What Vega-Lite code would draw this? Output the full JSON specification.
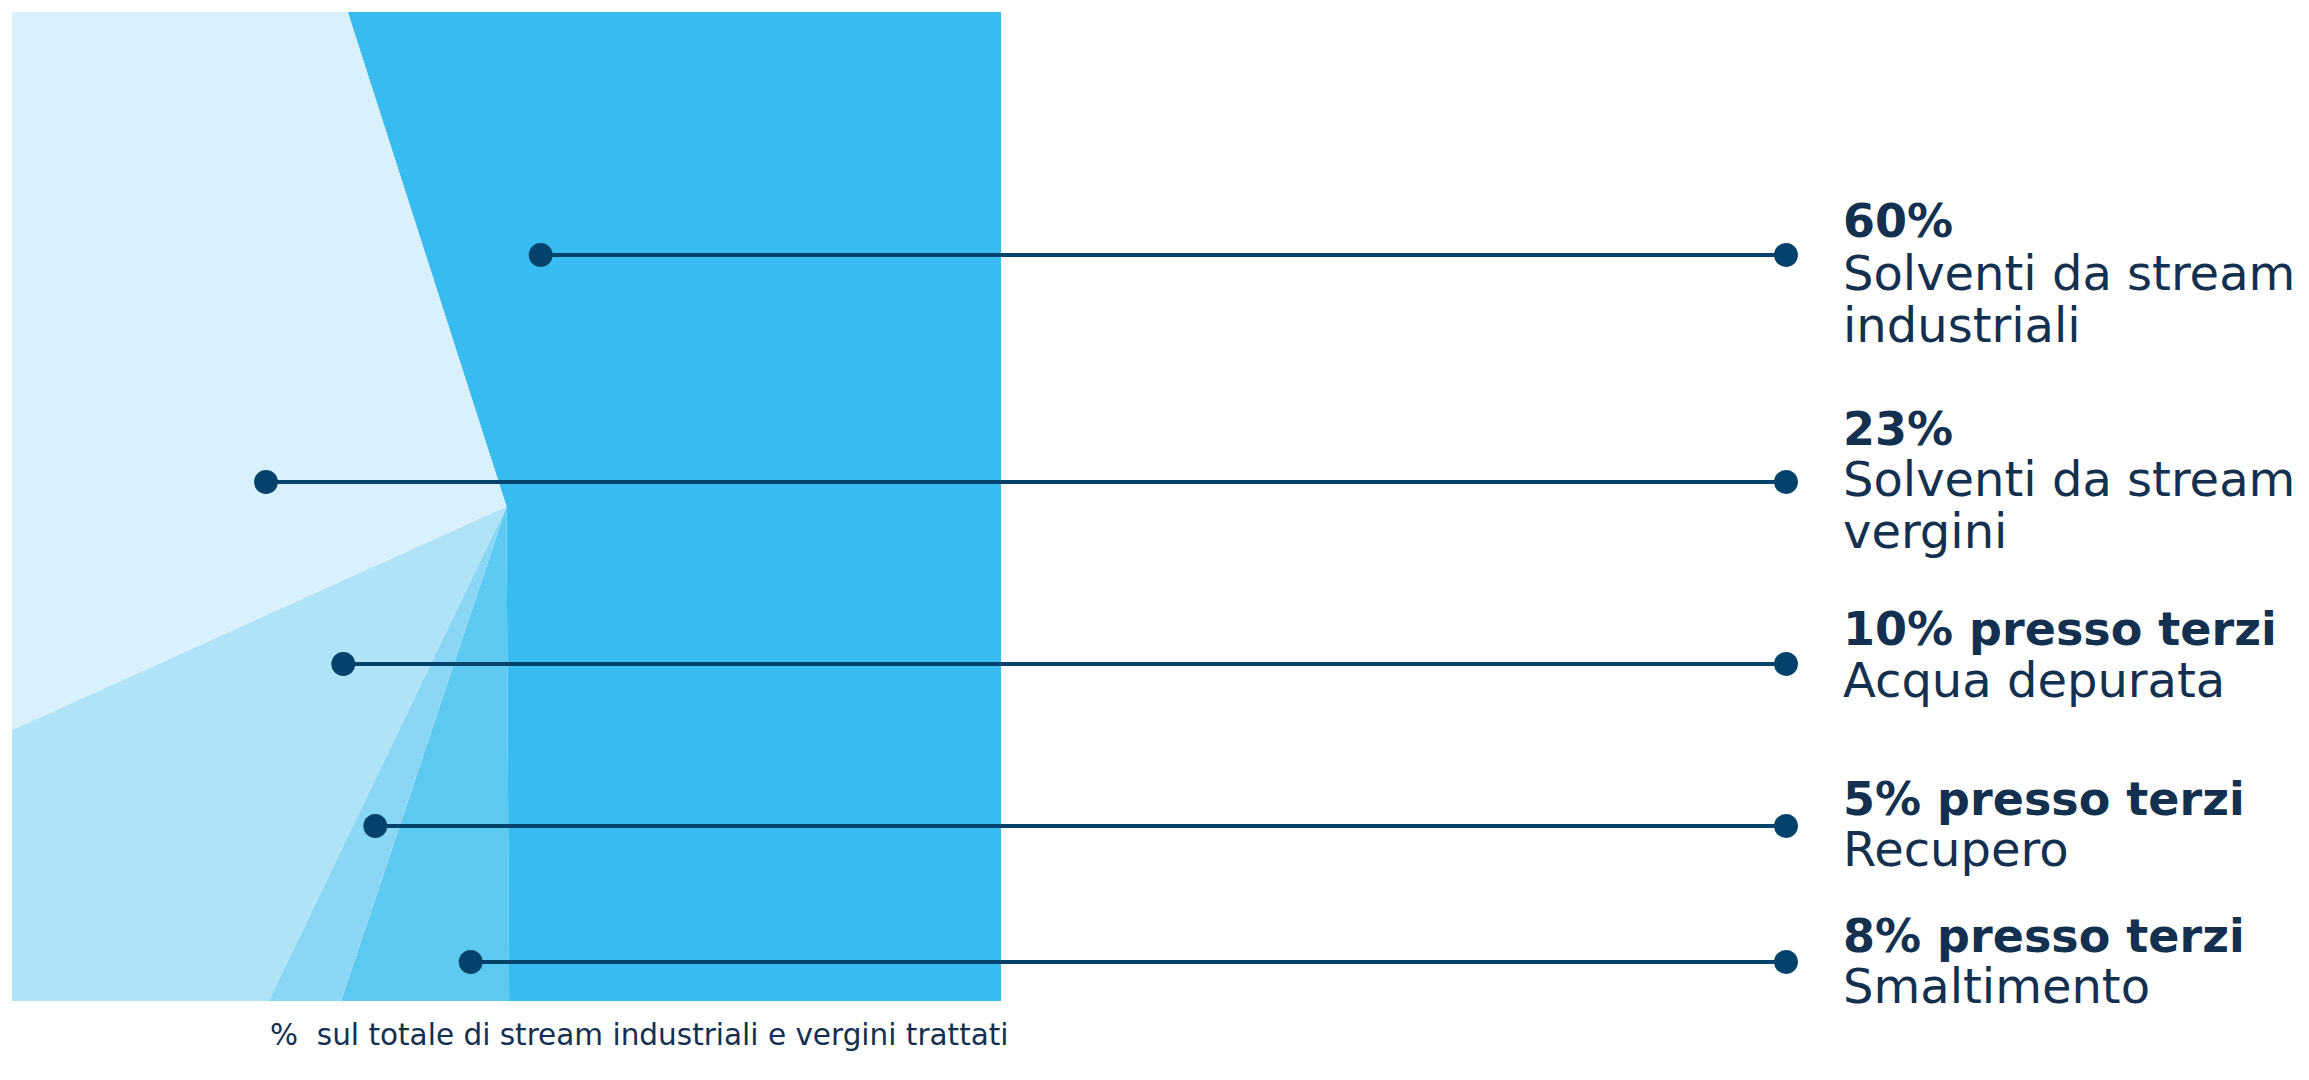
{
  "$schema": "https://vega.github.io/schema/vega-lite/v6.json",
  "width": 989,
  "height": 989,
  "padding": {"left": 12, "top": 12, "right": 0, "bottom": 10},
  "background": "white",
  "config": {"view": {"stroke": null}},
  "datasets": {
    "slices": [
      {"slice": "Solventi da stream industriali", "share": 54.86, "ord": 1},
      {"slice": "Smaltimento", "share": 5.22, "ord": 2},
      {"slice": "Recupero", "share": 2.0, "ord": 3},
      {"slice": "Acqua depurata", "share": 11.11, "ord": 4},
      {"slice": "Solventi da stream vergini", "share": 26.81, "ord": 5}
    ],
    "leaders": [
      {"slice": "Solventi da stream industriali", "x1": 540.7, "x2": 1786, "y": 255},
      {"slice": "Solventi da stream vergini", "x1": 266, "x2": 1786, "y": 482},
      {"slice": "Acqua depurata", "x1": 343.3, "x2": 1786, "y": 664},
      {"slice": "Recupero", "x1": 375.3, "x2": 1786, "y": 826},
      {"slice": "Smaltimento", "x1": 470.7, "x2": 1786, "y": 962}
    ],
    "heads": [
      {"text": "60%", "x": 1843, "y": 236.7},
      {"text": "23%", "x": 1843, "y": 445},
      {"text": "10% presso terzi", "x": 1843, "y": 645},
      {"text": "5% presso terzi", "x": 1843, "y": 815},
      {"text": "8% presso terzi", "x": 1843, "y": 951.7}
    ],
    "bodies": [
      {"text": "Solventi da stream", "x": 1843, "y": 290},
      {"text": "industriali", "x": 1843, "y": 341.7},
      {"text": "Solventi da stream", "x": 1843, "y": 496},
      {"text": "vergini", "x": 1843, "y": 548},
      {"text": "Acqua depurata", "x": 1843, "y": 697.3},
      {"text": "Recupero", "x": 1843, "y": 866},
      {"text": "Smaltimento", "x": 1843, "y": 1003.3}
    ],
    "notes": [
      {"text": "%\u00a0 sul totale di stream industriali e vergini trattati", "x": 270, "y": 1045}
    ]
  },
  "layer": [
    {
      "data": {"name": "slices"},
      "mark": {"type": "arc", "outerRadius": 760, "clip": true, "stroke": null},
      "encoding": {
        "theta": {"field": "share", "type": "quantitative", "scale": {"range": [5.9725, 12.2557]}},
        "order": {"field": "ord", "type": "quantitative"},
        "color": {
          "field": "slice", "type": "nominal", "legend": null,
          "scale": {
            "domain": ["Solventi da stream industriali", "Smaltimento", "Recupero", "Acqua depurata", "Solventi da stream vergini"],
            "range": ["#38bcef", "#5ec9f0", "#89d7f4", "#b0e3f7", "#d8f1fc"]
          }
        }
      }
    },
    {
      "data": {"name": "leaders"},
      "mark": {"type": "rule", "color": "#03426a", "strokeWidth": 4},
      "encoding": {
        "x": {"field": "x1", "type": "quantitative", "axis": null, "scale": {"domain": [12, 1001], "nice": false, "zero": false}},
        "x2": {"field": "x2"},
        "y": {"field": "y", "type": "quantitative", "axis": null, "scale": {"domain": [12, 1001], "nice": false, "zero": false, "reverse": true}}
      }
    },
    {
      "data": {"name": "leaders"},
      "mark": {"type": "point", "filled": true, "shape": "circle", "size": 570, "color": "#03426a", "opacity": 1},
      "encoding": {
        "x": {"field": "x1", "type": "quantitative"},
        "y": {"field": "y", "type": "quantitative"}
      }
    },
    {
      "data": {"name": "leaders"},
      "mark": {"type": "point", "filled": true, "shape": "circle", "size": 570, "color": "#03426a", "opacity": 1},
      "encoding": {
        "x": {"field": "x2", "type": "quantitative"},
        "y": {"field": "y", "type": "quantitative"}
      }
    },
    {
      "data": {"name": "heads"},
      "mark": {"type": "text", "align": "left", "baseline": "alphabetic", "font": "DejaVu Sans", "fontWeight": "bold", "fontSize": 46, "color": "#13304f"},
      "encoding": {
        "x": {"field": "x", "type": "quantitative"},
        "y": {"field": "y", "type": "quantitative"},
        "text": {"field": "text"}
      }
    },
    {
      "data": {"name": "bodies"},
      "mark": {"type": "text", "align": "left", "baseline": "alphabetic", "font": "DejaVu Sans", "fontSize": 48, "color": "#13304f"},
      "encoding": {
        "x": {"field": "x", "type": "quantitative"},
        "y": {"field": "y", "type": "quantitative"},
        "text": {"field": "text"}
      }
    },
    {
      "data": {"name": "notes"},
      "mark": {"type": "text", "align": "left", "baseline": "alphabetic", "font": "DejaVu Sans", "fontSize": 29.5, "color": "#13304f"},
      "encoding": {
        "x": {"field": "x", "type": "quantitative"},
        "y": {"field": "y", "type": "quantitative"},
        "text": {"field": "text"}
      }
    }
  ]
}
